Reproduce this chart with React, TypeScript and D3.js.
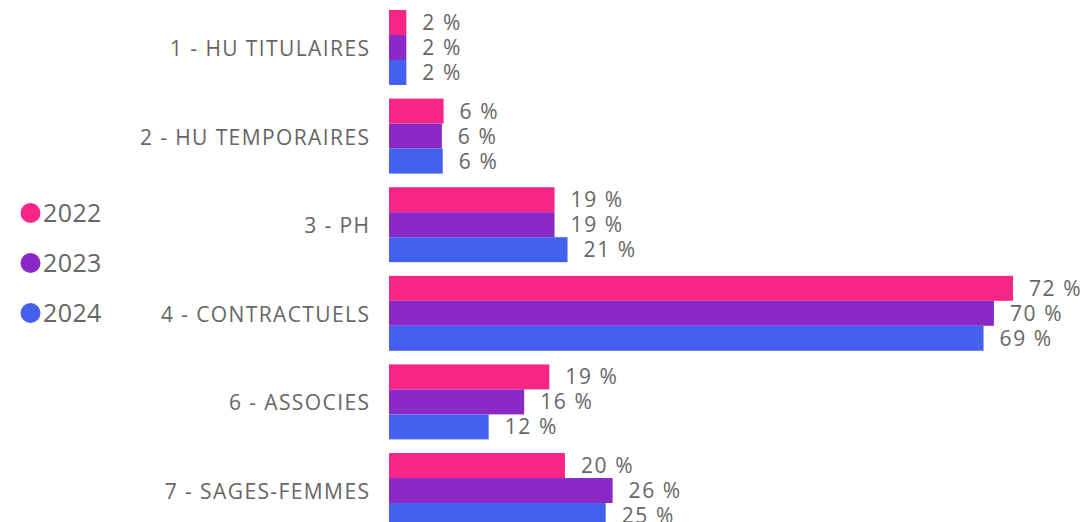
import React from 'react';
import * as d3 from 'd3';

const width = 1084;
const height = 522;

const categories = [
    "1 - HU TITULAIRES",
    "2 - HU TEMPORAIRES",
    "3 - PH",
    "4 - CONTRACTUELS",
    "6 - ASSOCIES",
    "7 - SAGES-FEMMES"
];
const years = ["2022", "2023", "2024"];
const values2022 = [2.0, 6.3, 19.1, 72.0, 18.5, 20.3];
const values2023 = [2.0, 6.1, 19.1, 69.8, 15.6, 25.8];
const values2024 = [2.0, 6.2, 20.6, 68.6, 11.5, 25.0];
const colors = ["#F72585", "#8A29C5", "#4361EE"];

const font = "'Open Sans', sans-serif";
const textColor = "#666666";
const labelSpacing = 1.4;

export default function App() {
    const series = [values2022, values2023, values2024];
    const maxVal = d3.max(series.flat()) as number;

    const xScale = d3.scaleLinear()
        .domain([0, maxVal])
        .range([389, 1013]);
    const yScale = d3.scaleBand()
        .domain(categories)
        .range([10, 528])
        .paddingInner(0.154)
        .paddingOuter(0);
    const subScale = d3.scaleBand()
        .domain(years)
        .range([0, yScale.bandwidth()]);
    const legendScale = d3.scalePoint()
        .domain(years)
        .range([213, 313]);

    return (
        <div style={{position: 'fixed', top: 0, left: 0}}>
            <svg width={width} height={height} style={{display: 'block', background: '#fff'}}>
                {/* legend */}
                {years.map((yr, i) => (
                    <g key={yr} transform={`translate(0, ${legendScale(yr)})`}>
                        <circle cx={30.5} cy={0} r={10} fill={colors[i]}/>
                        <text x={43} y={0} dy="0.36em" fontFamily={font} fontSize={25}
                              letterSpacing={0.4} fill={textColor}>{yr}</text>
                    </g>
                ))}
                {/* category labels */}
                {categories.map(c => (
                    <text key={c} x={369 + labelSpacing} y={(yScale(c) as number) + yScale.bandwidth() / 2 + 1}
                          dy="0.36em" textAnchor="end" fontFamily={font} fontSize={21}
                          letterSpacing={labelSpacing} fill={textColor}>{c}</text>
                ))}
                {/* bars */}
                {years.map((yr, si) => (
                    <g key={yr}>
                        {categories.map((c, ci) => {
                            const v = series[si][ci];
                            const y = (yScale(c) as number) + (subScale(yr) as number);
                            const h = subScale.bandwidth();
                            return (
                                <g key={c}>
                                    <rect x={xScale(0)} y={y} width={xScale(v) - xScale(0)} height={h}
                                          fill={colors[si]}/>
                                    <text x={xScale(v) + 16} y={y + h / 2} dy="0.36em"
                                          fontFamily={font} fontSize={21} letterSpacing={1.6}
                                          fill={textColor}>{Math.round(v)} %</text>
                                </g>
                            );
                        })}
                    </g>
                ))}
            </svg>
        </div>
    );
}
